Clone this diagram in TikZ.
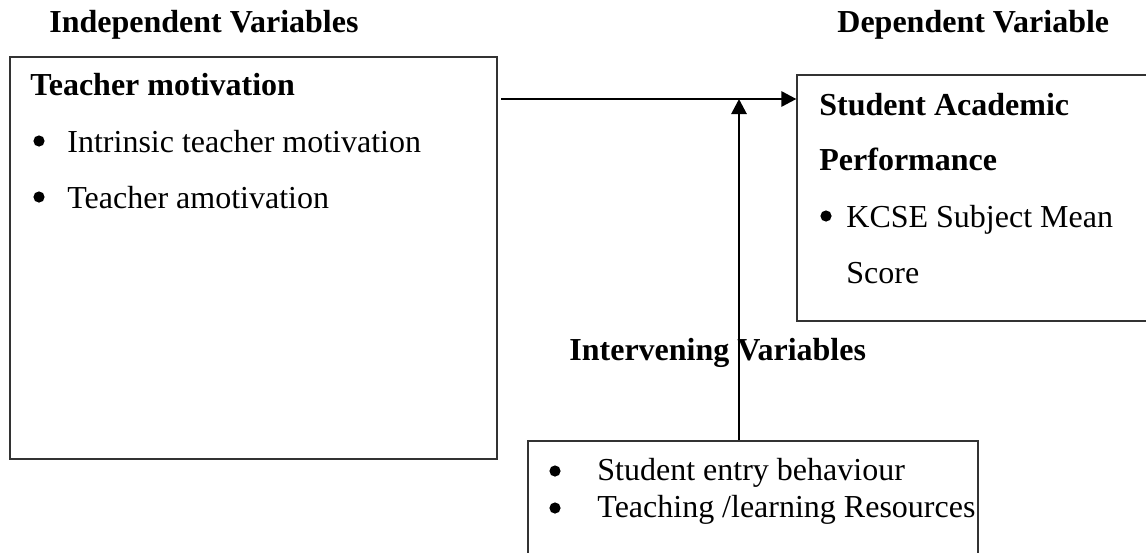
\documentclass[tikz,border=0pt]{standalone}
\usepackage{fontspec}
\setmainfont{Liberation Serif}
\usetikzlibrary{arrows.meta}
\newcommand{\block}[2]{
	\node[draw, black!80, line width = 0.6pt, rectangle, minimum width = #1, minimum height = #2]
}
\newcommand{\txt}[1]{
	\node[anchor = base west, inner sep = 0pt, font = \fontsize{16}{19}\selectfont#1]
}
\newcommand{\bulletdot}{
	\node[circle, fill = black, inner sep = 0pt, minimum size = 5.6pt]
}
\tikzset{conn/.style = {line width = 1.4pt, -{Triangle[length = 7.5pt, width = 7.5pt]}}}

\begin{document}
\begin{tikzpicture}[x = 0.5pt, y = -0.5pt]

		\useasboundingbox (0,0) rectangle (1146,552);
		\clip (0,0) rectangle (1146,552);

		\txt{\bfseries} (indep) at (49,32) {Independent Variables};
		\txt{\bfseries} (dep) at (837,32) {Dependent Variable};
		\txt{\bfseries} (interv) at (569,360) {Intervening Variables};

		\block{243.5pt}{201pt} (motiv) at (253.5,258) {};
		\block{177pt}{123pt} (perf) at (974,198) {};
		\block{225pt}{66pt} (factors) at (753,507) {};

		\txt{\bfseries} (motivhead) at (30,95) {Teacher motivation};
		\bulletdot (b1) at (39,141) {};
		\txt{} (intr) at (67,152) {Intrinsic teacher motivation};
		\bulletdot (b2) at (39,197) {};
		\txt{} (amot) at (67,208) {Teacher amotivation};

		\txt{\bfseries} (perfhead1) at (819,115) {Student Academic};
		\txt{\bfseries} (perfhead2) at (819,170) {Performance};
		\bulletdot (b3) at (826,216) {};
		\txt{} (kcse1) at (846,227) {KCSE Subject Mean};
		\txt{} (kcse2) at (846,283) {Score};

		\bulletdot (b4) at (555,471) {};
		\txt{} (entry) at (597,480) {Student entry behaviour};
		\bulletdot (b5) at (555,508) {};
		\txt{} (res) at (597,517) {Teaching /learning Resources};

		\coordinate (start) at (501,99);
		\coordinate (join) at (739,99);
		\draw[conn] (start) -- (perf.west |- start);
		\draw[conn] (factors.north -| join) -- (join);
	\end{tikzpicture}
\end{document}
